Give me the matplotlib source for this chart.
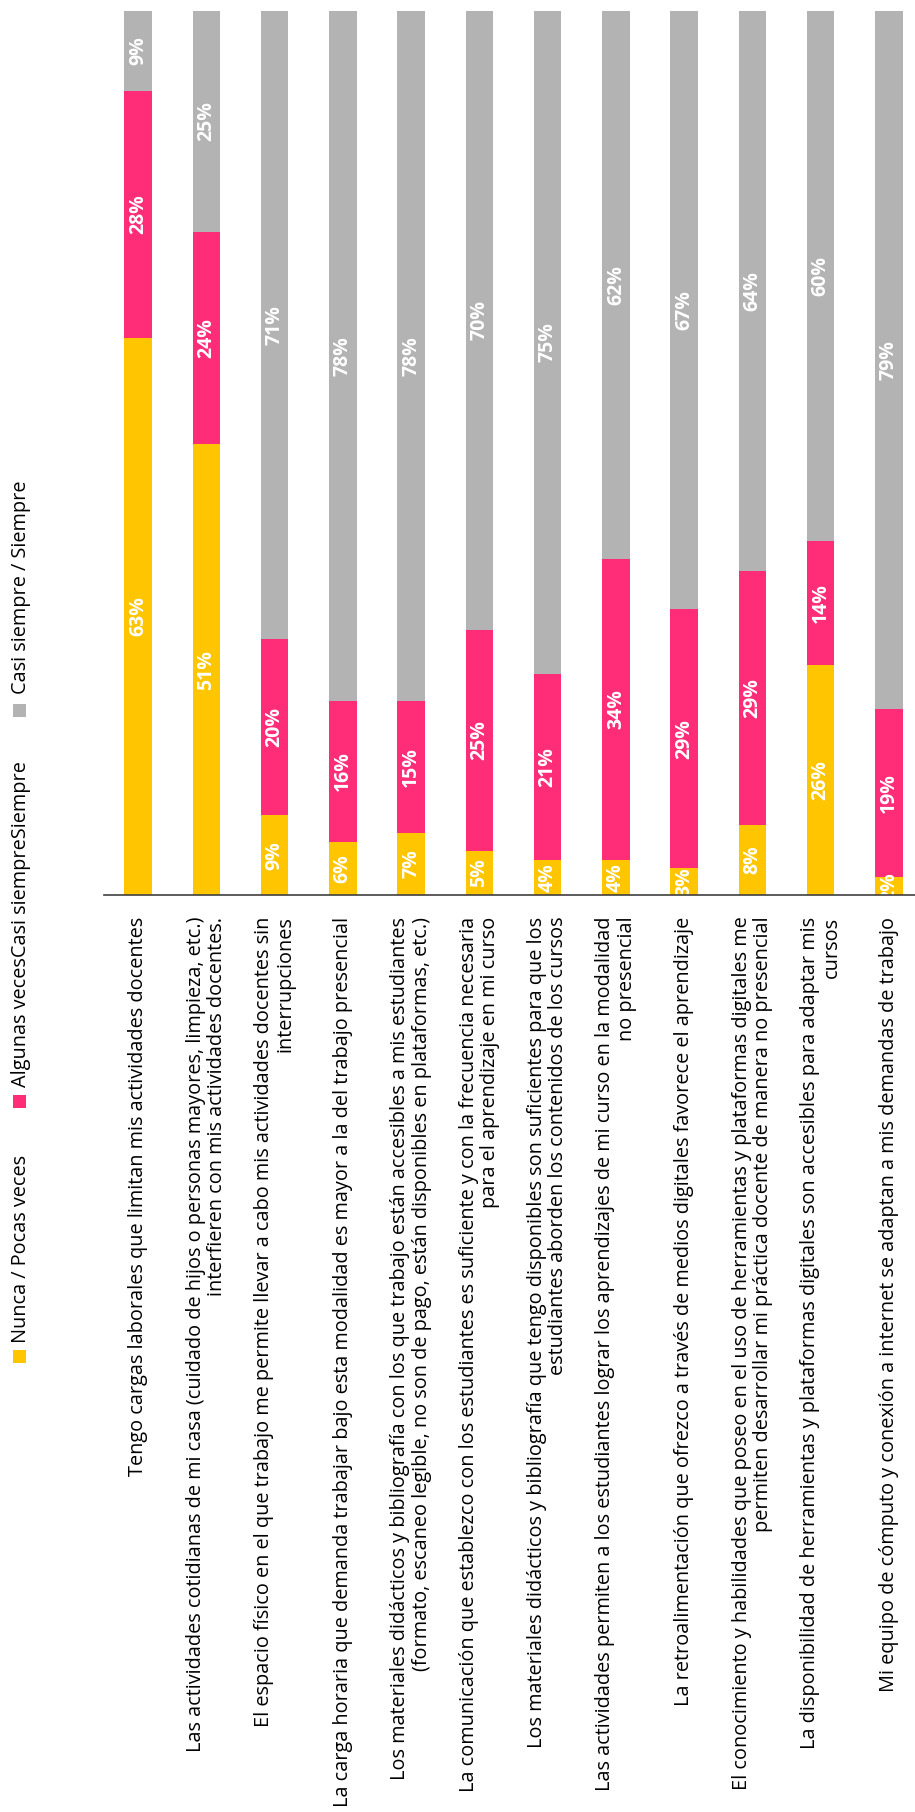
import matplotlib
matplotlib.use("Agg")
import matplotlib.pyplot as plt
from matplotlib.patches import Rectangle
import numpy as np

plt.rcParams['font.family'] = ['Open Sans', 'DejaVu Sans']

categories = [
    "Tengo cargas laborales que limitan mis actividades docentes",
    "Las actividades cotidianas de mi casa (cuidado de hijos o personas mayores, limpieza, etc.)\ninterfieren con mis actividades docentes.",
    "El espacio físico en el que trabajo me permite llevar a cabo mis actividades docentes sin\ninterrupciones",
    "La carga horaria que demanda trabajar bajo esta modalidad es mayor a la del trabajo presencial",
    "Los materiales didácticos y bibliografía con los que trabajo están accesibles a mis estudiantes\n(formato, escaneo legible, no son de pago, están disponibles en plataformas, etc.)",
    "La comunicación que establezco con los estudiantes es suficiente y con la frecuencia necesaria\npara el aprendizaje en mi curso",
    "Los materiales didácticos y bibliografía que tengo disponibles son suficientes para que los\nestudiantes aborden los contenidos de los cursos",
    "Las actividades permiten a los estudiantes lograr los aprendizajes de mi curso en la modalidad\nno presencial",
    "La retroalimentación que ofrezco a través de medios digitales favorece el aprendizaje",
    "El conocimiento y habilidades que poseo en el uso de herramientas y plataformas digitales me\npermiten desarrollar mi práctica docente de manera no presencial",
    "La disponibilidad de herramientas y plataformas digitales son accesibles para adaptar mis\ncursos",
    "Mi equipo de cómputo y conexión a internet se adaptan a mis demandas de trabajo",
]

series_names = ["Nunca / Pocas veces", "Algunas vecesCasi siempreSiempre", "Casi siempre / Siempre"]
nunca = [63, 51, 9, 6, 7, 5, 4, 4, 3, 8, 26, 2]
algunas = [28, 24, 20, 16, 15, 25, 21, 34, 29, 29, 14, 19]
casi = [9, 25, 71, 78, 78, 70, 75, 62, 67, 64, 60, 79]

colors = ["#FFC600", "#FF2D78", "#B3B3B3"]

W, H = 915, 1812
fig = plt.figure(figsize=(W / 100, H / 100), dpi=100)

ax_left, ax_right = 104, 923
ax_top, ax_bottom = 11, 895
ax = fig.add_axes([ax_left / W, 1 - ax_bottom / H, (ax_right - ax_left) / W, (ax_bottom - ax_top) / H])

data = np.array([nunca, algunas, casi], dtype=float)
totals = data.sum(axis=0)
norm = data / totals * 100

x = np.arange(len(categories))
bottom = np.zeros(len(categories))
for i in range(3):
    bars = ax.bar(x, norm[i], bottom=bottom, width=0.40, color=colors[i], zorder=2)
    ax.bar_label(bars, labels=[f"{int(v)}%" for v in data[i]], label_type='center',
                 rotation=90, color='white', fontsize=14, fontweight='bold', zorder=3)
    bottom += norm[i]

ax.set_xlim(-0.5, len(categories) - 0.5)
ax.set_ylim(0, 100)
for s in ['top', 'right', 'left']:
    ax.spines[s].set_visible(False)
ax.spines['bottom'].set_color('#404040')
ax.spines['bottom'].set_linewidth(1.2)
ax.spines['bottom'].set_zorder(4)
ax.set_yticks([])
ax.set_xticks(x)
ax.set_xticklabels(categories, rotation=90, ha='center', va='top', multialignment='right',
                   fontsize=14.3, color='#000000', linespacing=1.1)
ax.tick_params(axis='x', length=0, pad=15.5)

# legend (rotated, manual)
leg_sq_y = [1363, 1108, 717]
leg_txt_y = [1343, 1087, 694]
for name, c, sy, ty in zip(series_names, colors, leg_sq_y, leg_txt_y):
    fig.patches.append(Rectangle((13 / W, 1 - sy / H), 13 / W, 13 / H, transform=fig.transFigure,
                                 facecolor=c, edgecolor='none'))
    fig.text(21 / W, 1 - ty / H, name, rotation=90, ha='center', va='bottom', fontsize=14.3, color='#000000')

fig.savefig("out.png", dpi=100)
